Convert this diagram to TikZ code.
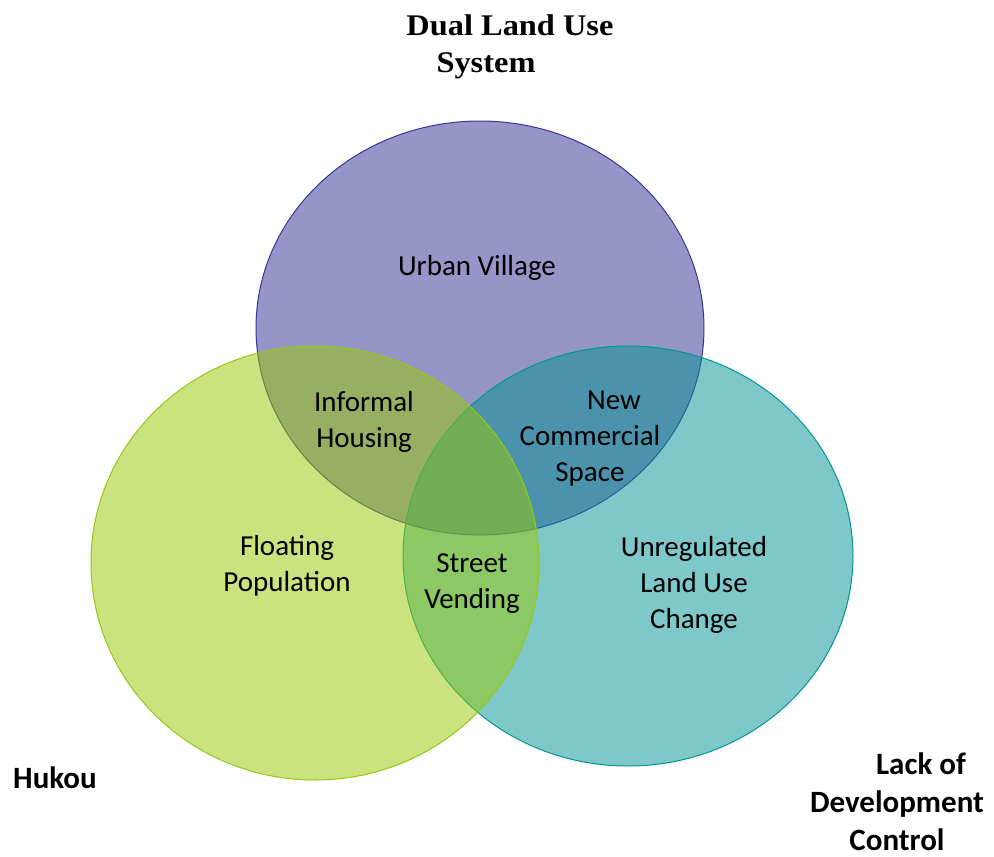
\documentclass[tikz,border=0pt]{standalone}
\usepackage{fontspec}
\setmainfont{Carlito}
\newfontfamily\titlefont[FakeStretch=1.08]{Liberation Serif}
\definecolor{pfill}{RGB}{49,45,145}
\definecolor{bfill}{RGB}{0,147,149}
\definecolor{gfill}{RGB}{153,201,1}
\definecolor{pline}{RGB}{55,55,150}
\definecolor{bline}{RGB}{0,150,150}
\definecolor{gline}{RGB}{150,200,20}
\tikzset{
  venn/.style={fill opacity=0.5, line width=1pt},
  inner/.style={align=center, font=\fontsize{29}{36}\selectfont, inner sep=0pt},
  outer/.style={align=center, font=\fontsize{31}{38}\selectfont\bfseries, inner sep=0pt},
  titletext/.style={align=center, font=\titlefont\fontsize{30}{37}\selectfont\bfseries, inner sep=0pt}
}
\begin{document}
\begin{tikzpicture}[x=1pt,y=-1pt]
\useasboundingbox (0,0) rectangle (994,857);
\fill[white] (0,0) rectangle (994,857);
\draw[venn, fill=pfill, draw=pline] (480,328) ellipse [x radius=224, y radius=207];
\draw[venn, fill=bfill, draw=bline] (628,556) ellipse [x radius=225, y radius=210];
\draw[venn, fill=gfill, draw=gline] (315,563) ellipse [x radius=224, y radius=217];

\node[titletext] (title) at (510,47) {Dual Land Use\\System\hspace*{48pt}};
\node[inner] (uv) at (477,268) {Urban Village};
\node[inner] (ih) at (364,422) {Informal\\Housing};
\node[inner] (ncs) at (590,439) {\hspace*{48pt}New\\Commercial\\Space};
\node[inner] (fp) at (287,566) {Floating\\Population};
\node[inner] (sv) at (472,584) {Street\\Vending};
\node[inner] (ul) at (694,585) {Unregulated\\Land Use\\Change};
\node[outer, anchor=west] (hk) at (13,778) {Hukou};
\node[outer] (ldc) at (897,802) {\hspace*{48pt}Lack of\\Development\\Control};
\end{tikzpicture}
\end{document}
